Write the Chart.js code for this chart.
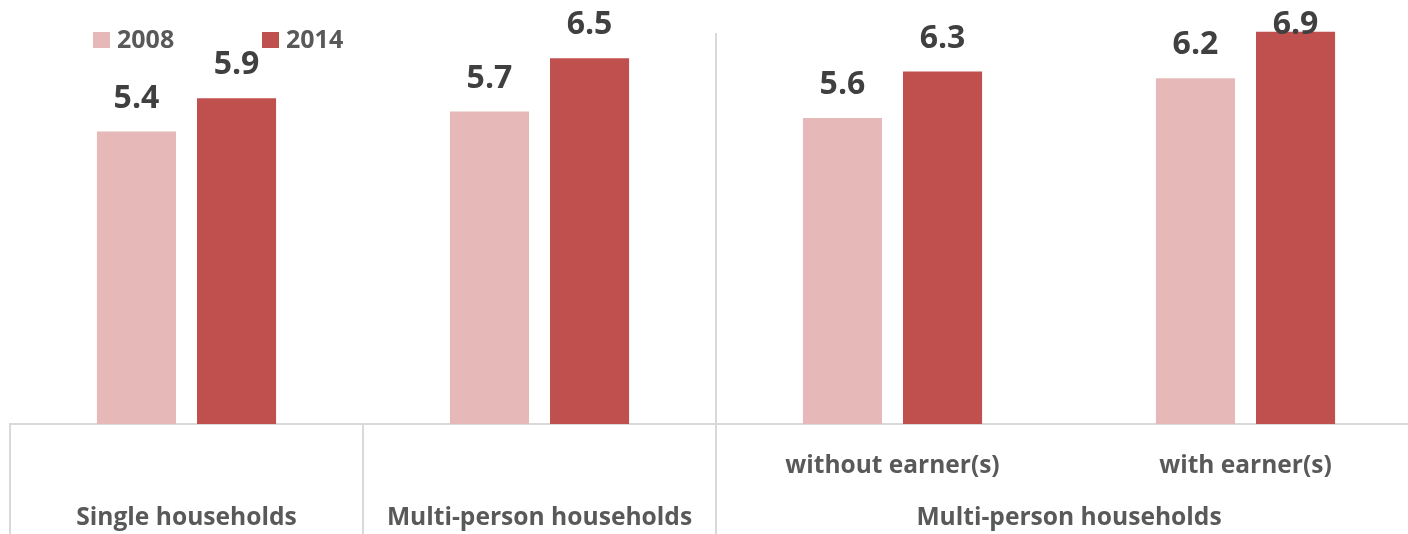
<!DOCTYPE html>
<html>
<head>
<meta charset="utf-8">
<script src="https://cdn.jsdelivr.net/npm/chart.js@4"></script>
<style>
  html, body { margin: 0; padding: 0; background: #fff; overflow: hidden; }
  #chart { display: block; }
</style>
</head>
<body>
<canvas id="chart" width="1422" height="534"></canvas>
<script>
/* Households: 2008 vs 2014 */

const categories = ['', '', 'without earner(s)', 'with earner(s)'];
const values2008 = [5.4, 5.7, 5.6, 6.2];
const values2014 = [5.9, 6.5, 6.3, 6.9];
const seriesNames = ['2008', '2014'];
const groups = [
  { label: 'Single households', from: 0, to: 0 },
  { label: 'Multi-person households', from: 1, to: 1 },
  { label: 'Multi-person households', from: 2, to: 3 },
];

const COLORS = {
  light: '#E6B9B8',
  dark: '#C0504D',
  text: '#595959',
  value: '#404040',
  rule: '#D9D9D9',
};
const FONT = '"Open Sans", "Noto Sans", sans-serif';

// boundary pixel left of category i
function edgeX(scale, i) {
  const step = scale.getPixelForValue(1) - scale.getPixelForValue(0);
  return scale.getPixelForValue(i) - step / 2;
}

/* ── Légende, séparateurs, libellés de groupe ── */
const decorPlugin = {
  id: 'decor',
  afterDraw(chart) {
    const ctx = chart.ctx;
    const x = chart.scales.x;
    const area = chart.chartArea;
    const bottom = chart.height;
    ctx.save();

    // separators
    ctx.strokeStyle = COLORS.rule;
    ctx.lineWidth = 2;
    groups.forEach((g, gi) => {
      const px = Math.round(edgeX(x, g.from));
      const top = gi === 2 ? 33 : area.bottom;
      ctx.beginPath();
      ctx.moveTo(px, top);
      ctx.lineTo(px, bottom);
      ctx.stroke();
    });

    // group labels
    ctx.fillStyle = COLORS.text;
    ctx.font = 'bold 24.6px ' + FONT;
    ctx.textAlign = 'center';
    ctx.textBaseline = 'middle';
    groups.forEach(g => {
      const cx = (x.getPixelForValue(g.from) + x.getPixelForValue(g.to)) / 2;
      ctx.fillText(g.label, cx, 518);
    });

    // legend
    const legendX = [93, 262];
    ctx.font = 'bold 25px ' + FONT;
    ctx.textAlign = 'left';
    chart.data.datasets.forEach((ds, i) => {
      ctx.fillStyle = ds.backgroundColor;
      ctx.fillRect(legendX[i], 32, 17, 16);
      ctx.fillStyle = COLORS.text;
      ctx.fillText(ds.label, legendX[i] + 24, 41);
    });

    ctx.restore();
  },
  afterDatasetsDraw(chart) {
    const ctx = chart.ctx;
    ctx.save();
    ctx.fillStyle = COLORS.value;
    ctx.font = 'bold 32px ' + FONT;
    ctx.textAlign = 'center';
    ctx.textBaseline = 'middle';
    chart.data.datasets.forEach((ds, di) => {
      chart.getDatasetMeta(di).data.forEach((bar, i) => {
        const y = Math.max(bar.y - 33, 25);
        ctx.fillText(ds.data[i].toFixed(1), bar.x, y);
      });
    });
    ctx.restore();
  }
};

new Chart(document.getElementById('chart'), {
  type: 'bar',
  data: {
    labels: categories,
    datasets: [
      { label: seriesNames[0], data: values2008, backgroundColor: COLORS.light },
      { label: seriesNames[1], data: values2014, backgroundColor: COLORS.dark },
    ]
  },
  options: {
    responsive: false,
    animation: false,
    devicePixelRatio: 1,
    categoryPercentage: 0.567,
    barPercentage: 0.79,
    layout: { padding: { left: 10, right: 0, top: 25, bottom: 0 } },
    plugins: {
      legend: { display: false },
      tooltip: { enabled: false },
    },
    scales: {
      x: {
        grid: { display: false, drawTicks: false },
        border: { display: true, color: COLORS.rule, width: 2 },
        ticks: {
          color: COLORS.text,
          font: { family: FONT, size: 24.5, weight: 'bold' },
          padding: 27,
          maxRotation: 0,
          autoSkip: false,
        },
        afterFit(scale) { scale.height = 110; },
      },
      y: {
        display: false,
        min: 1,
        max: 7,
      }
    }
  },
  plugins: [decorPlugin]
});
</script>
</body>
</html>
